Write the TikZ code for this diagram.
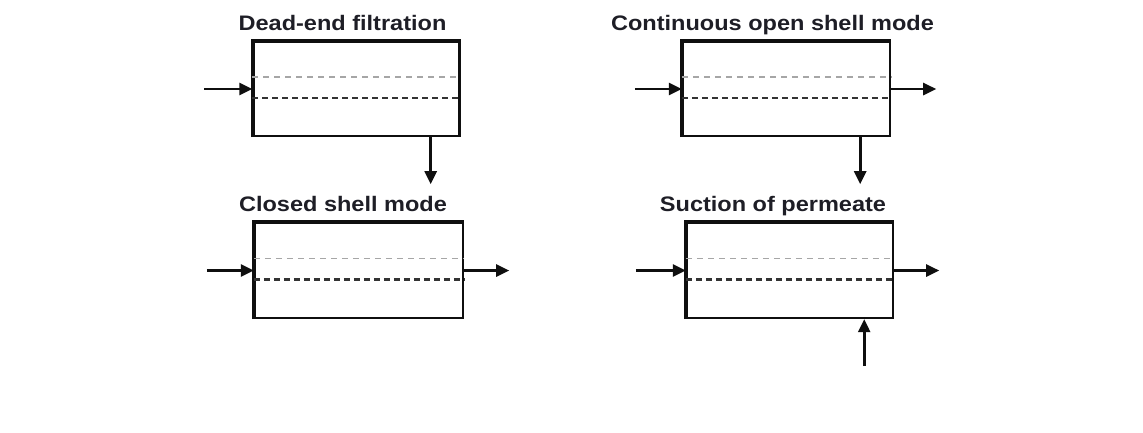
\documentclass[tikz,border=0pt]{standalone}
\usepackage{fontspec}
\newfontfamily\titlefont[FakeStretch=1.12]{Liberation Sans}
\usetikzlibrary{arrows.meta,positioning,calc}
\definecolor{inkcolor}{RGB}{15,15,15}
\definecolor{titlecolor}{RGB}{30,30,38}
\tikzset{
  unitbox/.style={draw=inkcolor, line width=2.4pt, minimum width=206pt, minimum height=94pt, inner sep=0pt},
  thickedge/.style={line width=3.6pt, line cap=butt, line join=miter, inkcolor},
  membup/.style={dash pattern=on 6pt off 5pt, line width=1.8pt, gray!70},
  memblow/.style={dash pattern=on 6pt off 4pt, line width=2.6pt, inkcolor!85},
  flow/.style={-{Triangle[length=13pt,width=12pt]}, line width=2.6pt, inkcolor},
  title/.style={font=\titlefont\bfseries\fontsize{21}{24}\selectfont, text=titlecolor, anchor=base, inner sep=0pt},
}
% heavy top and left edge, two dashed membranes
\newcommand{\membrane}[1]{%
  \draw[thickedge] (#1.south west) -- (#1.north west) -- (#1.north east);
  \draw[membup] ($(#1.west)+(0,-12)$) -- ($(#1.east)+(0,-12)$);
  \draw[memblow] ($(#1.west)+(0,9)$) -- ($(#1.east)+(0,9)$);
}
\begin{document}
\begin{tikzpicture}[x=1pt, y=-1pt]
  \useasboundingbox (0,0) rectangle (1143,432);
  % dead-end filtration
  \node[unitbox] (dend) at (356.5,89) {};
  \membrane{dend}
  \node[title] (dend-t) at ($(dend.north)+(-14,-10)$) {Dead-end filtration};
  \coordinate[left=48pt of dend.west] (dend-in);
  \coordinate (dend-perm) at ($(dend.south east)+(-30,0)$);
  \coordinate[below=47pt of dend-perm] (dend-out);
  \draw[flow] (dend-in) -- (dend.west);
  \draw[flow] (dend-perm) -- (dend-out);
  % continuous open shell mode
  \node[unitbox, minimum width=207pt] (cont) at (786.5,89) {};
  \membrane{cont}
  \node[title] (cont-t) at ($(cont.north)+(-14,-10)$) {Continuous open shell mode};
  \coordinate[left=47pt of cont.west] (cont-in);
  \coordinate[right=45pt of cont.east] (cont-out);
  \coordinate (cont-perm) at ($(cont.south east)+(-31,0)$);
  \coordinate[below=47pt of cont-perm] (cont-down);
  \draw[flow] (cont-in) -- (cont.west);
  \draw[flow] (cont.east) -- (cont-out);
  \draw[flow] (cont-perm) -- (cont-down);
  % closed shell mode
  \node[unitbox, minimum width=208pt, minimum height=95pt] (clsd) at (359,270.5) {};
  \membrane{clsd}
  \node[title] (clsd-t) at ($(clsd.north)+(-16,-10)$) {Closed shell mode};
  \coordinate[left=47pt of clsd.west] (clsd-in);
  \coordinate[right=45pt of clsd.east] (clsd-out);
  \draw[flow] (clsd-in) -- (clsd.west);
  \draw[flow] (clsd.east) -- (clsd-out);
  % suction of permeate
  \node[unitbox, minimum height=95pt] (suct) at (790,270.5) {};
  \membrane{suct}
  \node[title] (suct-t) at ($(suct.north)+(-17,-10)$) {Suction of permeate};
  \coordinate[left=50pt of suct.west] (suct-in);
  \coordinate[right=45pt of suct.east] (suct-out);
  \coordinate (suct-perm) at ($(suct.south east)+(-30,0)$);
  \coordinate[below=47pt of suct-perm] (suct-pump);
  \draw[flow] (suct-in) -- (suct.west);
  \draw[flow] (suct.east) -- (suct-out);
  \draw[flow] (suct-pump) -- (suct-perm);
\end{tikzpicture}
\end{document}
